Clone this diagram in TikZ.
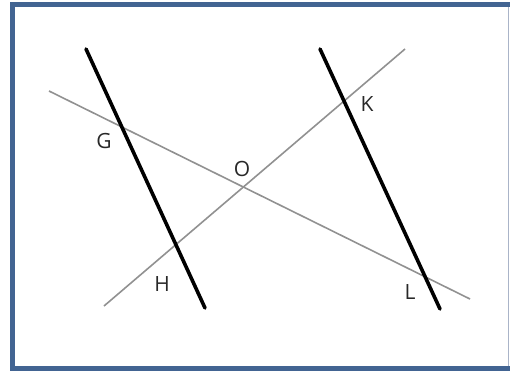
\documentclass[tikz,border=0pt]{standalone}
\usepackage{fontspec}
\setmainfont{Open Sans}
\usepackage{tikz}
\usetikzlibrary{positioning}
\usepackage{xcolor}
\definecolor{framblue}{RGB}{66,100,146}
\definecolor{framgray}{RGB}{170,180,200}
\definecolor{thingray}{RGB}{145,145,145}
\definecolor{labeltext}{RGB}{40,40,40}
\tikzset{
  thickline/.style={line width=3.6pt,draw=black,line cap=round},
  thinline/.style={line width=1.6pt,draw=thingray},
  ptlabel/.style={font=\fontsize{21}{22}\selectfont,text=labeltext,inner sep=0pt},
  frameline/.style={line width=5pt,draw=framblue}
}
\begin{document}
\begin{tikzpicture}[x=1pt,y=-1pt]
  \useasboundingbox (0,0) rectangle (510,374);
  % frame
  \draw[frameline] (12.5,4.5) -- (12.5,368.5) -- (510,368.5);
  \draw[frameline] (10,4.5) -- (510,4.5);
  \draw[line width=1.2pt,draw=framgray] (508.5,7) -- (508.5,366);

  % end points
  \coordinate (g1) at (86,49);
  \coordinate (g2) at (205,308);
  \coordinate (k1) at (320,49);
  \coordinate (k2) at (440,309);
  \coordinate (a1) at (49,91);
  \coordinate (a2) at (470,299);
  \coordinate (b1) at (104,306);
  \coordinate (b2) at (405,49);

  \draw[thinline] (a1) -- (a2);
  \draw[thinline] (b1) -- (b2);
  \draw[thickline] (g1) -- (g2);
  \draw[thickline] (k1) -- (k2);

  % labels
  \node[ptlabel] (G) at (104,141) {G};
  \node[ptlabel] (O) at (242,169) {O};
  \node[ptlabel] (H) at (162,284) {H};
  \node[ptlabel] (K) at (367,104) {K};
  \node[ptlabel] (L) at (410,292) {L};
\end{tikzpicture}
\end{document}
